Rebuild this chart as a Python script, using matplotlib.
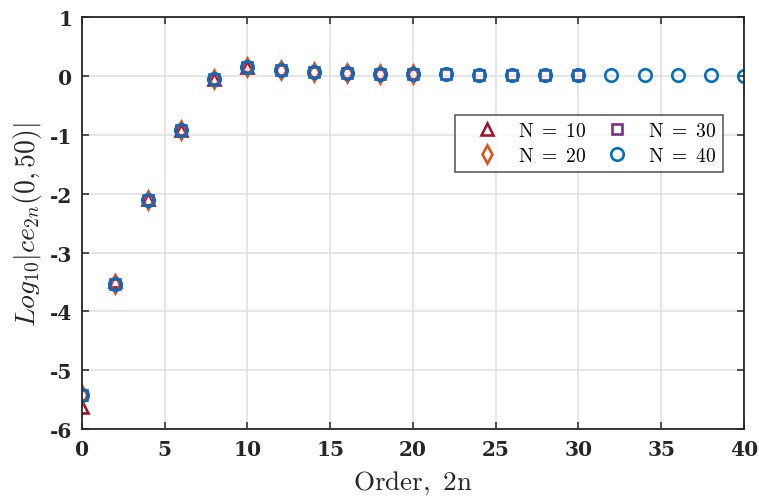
import matplotlib
matplotlib.use("Agg")
import matplotlib.pyplot as plt
from matplotlib.ticker import FixedLocator, FixedFormatter

plt.rcParams['mathtext.fontset'] = 'cm'
plt.rcParams['font.family'] = ['DejaVu Serif']

# Data
order_10 = [0, 2, 4, 6, 8, 10]
vals_10 = [-5.62, -3.49, -2.09, -0.91, -0.05, 0.16]

order_20 = [0, 2, 4, 6, 8, 10, 12, 14, 16, 18, 20]
vals_20 = [-5.42, -3.54, -2.10, -0.92, -0.06, 0.16, 0.10, 0.065, 0.05, 0.04, 0.03]

order_30 = [0, 2, 4, 6, 8, 10, 12, 14, 16, 18, 20, 22, 24, 26, 28, 30]
vals_30 = [-5.42, -3.54, -2.10, -0.92, -0.06, 0.16, 0.10, 0.065, 0.05, 0.04, 0.03,
           0.025, 0.02, 0.017, 0.015, 0.013]

order_40 = [0, 2, 4, 6, 8, 10, 12, 14, 16, 18, 20, 22, 24, 26, 28, 30, 32, 34, 36, 38, 40]
vals_40 = [-5.42, -3.54, -2.10, -0.92, -0.06, 0.16, 0.10, 0.065, 0.05, 0.04, 0.03,
           0.025, 0.02, 0.017, 0.015, 0.013, 0.011, 0.010, 0.009, 0.008, 0.007]

labels = [r'$\mathrm{N\ =\ 10}$', r'$\mathrm{N\ =\ 20}$', r'$\mathrm{N\ =\ 30}$', r'$\mathrm{N\ =\ 40}$']

xticks = [0, 5, 10, 15, 20, 25, 30, 35, 40]
yticks = [-6, -5, -4, -3, -2, -1, 0, 1]

fig = plt.figure(figsize=(7.59, 5.02), dpi=100)
ax = fig.add_axes([0.108, 0.143, 0.872, 0.821])

ms = 9
mew = 1.9
ax.plot(order_10, vals_10, linestyle='none', marker='^', ms=ms, mew=mew,
        mfc='none', mec='#A2142F', label=labels[0])
ax.plot(order_20, vals_20, linestyle='none', marker='d', ms=ms, mew=mew,
        mfc='none', mec='#D95319', label=labels[1])
ax.plot(order_30, vals_30, linestyle='none', marker='s', ms=7, mew=mew,
        mfc='none', mec='#7E2F8E', label=labels[2])
ax.plot(order_40, vals_40, linestyle='none', marker='o', ms=ms, mew=mew,
        mfc='none', mec='#0072BD', label=labels[3])

ax.set_xlim(0, 40)
ax.set_ylim(-6, 1)
ax.xaxis.set_major_locator(FixedLocator(xticks))
ax.yaxis.set_major_locator(FixedLocator(yticks))
ax.xaxis.set_major_formatter(FixedFormatter(['%d' % t for t in xticks]))
ax.yaxis.set_major_formatter(FixedFormatter(['%d' % t for t in yticks]))
ax.tick_params(axis='both', direction='in', length=5, width=1.1, colors='#262626',
               labelsize=14.5, pad=7, top=True, right=True)
for lab in ax.get_xticklabels() + ax.get_yticklabels():
    lab.set_fontweight('bold')
    lab.set_family('DejaVu Serif')
ax.grid(True, color='#dfdfdf', linewidth=1.1)
ax.set_axisbelow(True)
for s in ax.spines.values():
    s.set_color('#262626')
    s.set_linewidth(1.3)

ax.set_xlabel(r'$\mathrm{Order,\ 2n}$', fontsize=19.5, color='#262626', labelpad=7)
ax.set_ylabel(r'$Log_{10}|ce_{2n}(0,50)|$', fontsize=20, color='#262626', labelpad=4)

leg = ax.legend(ncol=2, loc='upper left', bbox_to_anchor=(0.5634, 0.762),
                borderaxespad=0.0,
                fontsize=14, frameon=True, fancybox=False, edgecolor='#262626',
                handlelength=2.6, handletextpad=0.3, columnspacing=0.25,
                borderpad=0.35, labelspacing=0.35)
leg.get_frame().set_linewidth(1.1)

fig.savefig('out.png', dpi=100, facecolor='white')
